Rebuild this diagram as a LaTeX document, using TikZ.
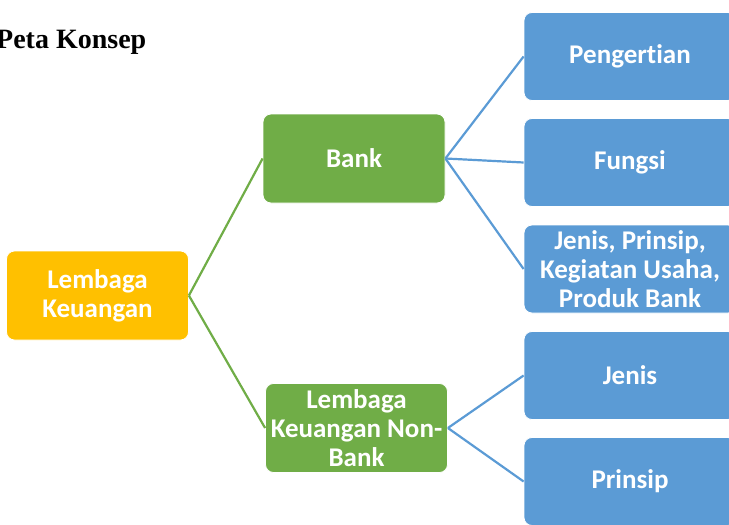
\documentclass[tikz,border=0pt]{standalone}
\usepackage{fontspec}
\setmainfont{Liberation Serif}
\newfontfamily\boxfont[Ligatures=NoCommon]{Carlito}
\definecolor{lkyellow}{HTML}{FFC000}
\definecolor{lkgreen}{HTML}{70AD47}
\definecolor{lkblue}{HTML}{5B9BD5}
\begin{document}
\begin{tikzpicture}[x=1pt,y=-1pt,
  box/.style={rectangle, rounded corners=8pt, draw=white, line width=0.8pt,
    text=white, align=center, inner sep=1pt,
    font=\boxfont\bfseries\fontsize{27}{29}\selectfont},
  rootbox/.style={box, fill=lkyellow, minimum width=182pt, minimum height=89pt},
  midbox/.style={box, fill=lkgreen, minimum width=182pt, minimum height=89pt},
  leafbox/.style={box, fill=lkblue, minimum width=212pt, minimum height=88pt},
  greenlink/.style={draw=lkgreen, line width=2.2pt},
  bluelink/.style={draw=lkblue, line width=2.2pt}]
\useasboundingbox (0,0) rectangle (729,525);
% title
\node[anchor=base west, inner sep=0pt, font=\bfseries\fontsize{28}{30}\selectfont] (title) at (-4,48) {Peta Konsep};
% boxes
\node[rootbox] (lk) at (97.5,295.5) {Lembaga\\Keuangan};
\node[midbox] (bank) at (354,158.5) {Bank};
\node[midbox] (nonbank) at (356.5,428) {Lembaga\\Keuangan Non-\\Bank};
\node[leafbox] (peng) at (630,56.5) {Pengertian};
\node[leafbox] (fungsi) at (630,162.5) {Fungsi};
\node[leafbox] (jenisbank) at (630,269) {Jenis, Prinsip,\\Kegiatan Usaha,\\Produk Bank};
\node[leafbox] (jenis) at (630,375.5) {Jenis};
\node[leafbox] (prinsip) at (630,481.5) {Prinsip};
% connectors
\draw[greenlink] (lk.east) -- (bank.west);
\draw[greenlink] (lk.east) -- (nonbank.west);
\draw[bluelink] (bank.east) -- (peng.west);
\draw[bluelink] (bank.east) -- (fungsi.west);
\draw[bluelink] (bank.east) -- (jenisbank.west);
\draw[bluelink] (nonbank.east) -- (jenis.west);
\draw[bluelink] (nonbank.east) -- (prinsip.west);
\end{tikzpicture}
\end{document}
